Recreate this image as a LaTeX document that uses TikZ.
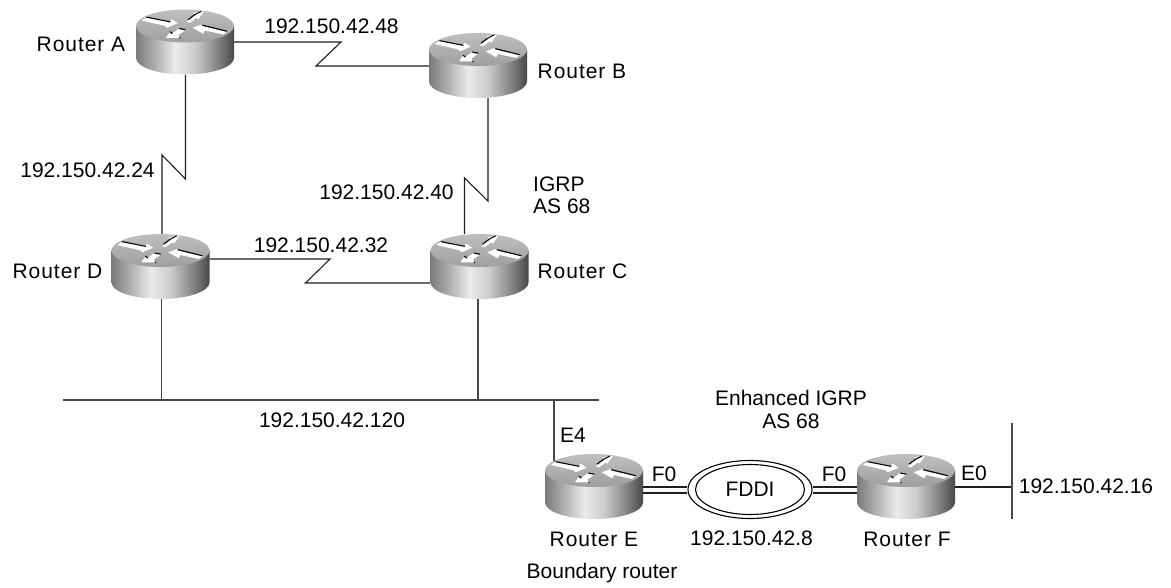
\documentclass[tikz,border=0pt]{standalone}
\usepackage{fontspec}
\setmainfont{Liberation Sans}
\usetikzlibrary{shapes.geometric}
\pgfdeclarehorizontalshading{routerside}{100bp}{color(0bp)=(black!52); color(25bp)=(black!52); color(33bp)=(black!35); color(45bp)=(black!8); color(55bp)=(black!20); color(68bp)=(black!52); color(75bp)=(black!72); color(100bp)=(black!72)}
\newcommand{\spaced}{\addfontfeature{LetterSpace=4.5}}
\tikzset{
  every picture/.style={x=1pt,y=-1pt},
  link/.style={draw=black!88,line width=1.1pt},
  lan/.style={draw=black!72,line width=1.2pt},
  anchorbox/.style={inner sep=0pt,minimum width=98pt,minimum height=65pt},
  lbl/.style={inner sep=0pt,font=\fontsize{21}{24}\selectfont,align=left},
  rlbl/.style={inner sep=0pt,font=\fontsize{21}{24}\selectfont\spaced},
  ringstyle/.style={draw=black,line width=1.1pt,ellipse,inner sep=0pt,fill=white},
  blackmark/.style={draw=black,line width=1.1pt,line cap=round},
  routerbody/.pic={
    \shade[shading=routerside] (-49,-16) -- (-49,16) .. controls (-49,25.1) and (-27,32.5) .. (0,32.5) .. controls (27,32.5) and (49,25.1) .. (49,16) -- (49,-16) -- cycle;
    \shade[top color=black!25,bottom color=black!38] (-49,-16) .. controls (-49,-25.1) and (-27,-32.5) .. (0,-32.5) .. controls (27,-32.5) and (49,-25.1) .. (49,-16) .. controls (49,-6.9) and (27,0.5) .. (0,0.5) .. controls (-27,0.5) and (-49,-6.9) .. cycle;
    \begin{scope}[shift={(0,-16)}]
      \fill[white] (-43.3,-5.5) -- (-38.3,-8.8) -- (-15,-4.2) -- (-13.3,-6.8) -- (-7.3,-2.8) -- (-18.3,1.8) -- (-20,-0.2) -- cycle;
      \draw[blackmark] (-38.3,-8.8) -- (-15,-4.2);
      \fill[white] (1.7,-4.2) -- (5,-3.2) -- (11.7,-8.2) -- (13.3,-6.8) -- (19,-14.8) -- (8.3,-13.2) -- (10,-10.8) -- cycle;
      \draw[blackmark] (3.3,-6.5) -- (10,-11.5) -- (16,-14.5);
      \fill[white] (7.7,1.8) -- (16.7,-1.5) -- (18,0.2) -- (41.7,5.8) -- (38.3,8.5) -- (20,4.5) -- (18.3,7.8) -- cycle;
      \draw[blackmark] (17.5,-0.8) -- (41.7,5.2);
      \fill[white] (-19,11.8) -- (-15,5.8) -- (-12.7,7.5) -- (-6,2.5) -- (0,4.5) -- (-6.7,9.2) -- (-5,11.8) -- cycle;
      \draw[blackmark] (-5.5,2.6) -- (0,3.6);
      \draw[blackmark] (-15,5.8) -- (-12.7,7.5);
      \fill[black] (-5,11.8) circle (0.8);
    \end{scope}
  }
}
\begin{document}
\begin{tikzpicture}
\useasboundingbox (0,0) rectangle (1171,587);
% router placeholders
\node[anchorbox] (A) at (185,42) {};
\node[anchorbox] (B) at (478,65.5) {};
\node[anchorbox] (C) at (479.5,266.5) {};
\node[anchorbox] (D) at (160.5,266.5) {};
\node[anchorbox] (E) at (594,486.5) {};
\node[anchorbox] (F) at (906,486.5) {};
% bend points
\coordinate (ab1) at (341,42);
\coordinate (ab2) at (316,66);
\coordinate (ad1) at (185.5,179);
\coordinate (ad2) at (162,155);
\coordinate (bc1) at (488,201);
\coordinate (bc2) at (464.5,178);
\coordinate (dc1) at (330,259);
\coordinate (dc2) at (305.5,283);
\coordinate (buswest) at (63,400);
\coordinate (buseast) at (599,400);
\coordinate (dropd) at (161.7,400);
\coordinate (dropc) at (478,400);
\coordinate (drope) at (554,400);
\coordinate (f1) at (0,487);
\coordinate (f2) at (0,493);
\coordinate (e0) at (1012,487);
\coordinate (nettop) at (1012,423);
\coordinate (netbot) at (1012,519);
% connectors
\draw[link] (A.east |- ab1) -- (ab1) -- (ab2) -- (B.west |- ab2);
\draw[link] (A.south -| ad1) -- (ad1) -- (ad2) -- (D.north -| ad2);
\draw[link] (B.south -| bc1) -- (bc1) -- (bc2) -- (C.north -| bc2);
\draw[link] (D.east |- dc1) -- (dc1) -- (dc2) -- (C.west |- dc2);
\draw[lan] (buswest) -- (buseast);
\draw[lan] (D.south -| dropd) -- (dropd);
\draw[lan] (C.south -| dropc) -- (dropc);
\draw[lan] (drope) -- (drope |- E.center);
\draw[link] (F.east |- e0) -- (e0);
\draw[lan] (nettop) -- (netbot);
% FDDI ring
\node[ringstyle,minimum width=124pt,minimum height=58pt] (ringout) at (750,489.5) {};
\node[ringstyle,minimum width=109pt,minimum height=50pt,font=\fontsize{21}{24}\selectfont] (ringin) at (750,489.5) {FDDI};
\draw[link] (E.east |- f1) -- (ringout.west |- f1);
\draw[link] (E.east |- f2) -- (ringout.west |- f2);
\draw[link] (ringout.east |- f1) -- (F.west |- f1);
\draw[link] (ringout.east |- f2) -- (F.west |- f2);
% routers
\pic at (A) {routerbody};
\pic at (B) {routerbody};
\pic at (C) {routerbody};
\pic at (D) {routerbody};
\pic at (E) {routerbody};
\pic at (F) {routerbody};
% labels
\node[rlbl] (ta) at (81,44) {Router A};
\node[rlbl] (tb) at (582,71) {Router B};
\node[rlbl] (tc) at (582.5,271) {Router C};
\node[rlbl] (td) at (57.5,271) {Router D};
\node[rlbl] (te) at (594,539) {Router E};
\node[rlbl] (tf) at (907,539) {Router F};
\node[lbl] (n48) at (331.5,26) {192.150.42.48};
\node[lbl] (n24) at (87.5,170) {192.150.42.24};
\node[lbl] (n40) at (386.5,192) {192.150.42.40};
\node[lbl] (n32) at (321,245) {192.150.42.32};
\node[lbl] (n120) at (332,420) {192.150.42.120};
\node[lbl] (n8) at (751.5,538) {192.150.42.8};
\node[lbl] (n16) at (1086,486) {192.150.42.16};
\node[lbl,anchor=west] (igrp) at (533,184) {IGRP};
\node[lbl,anchor=west] (as1) at (533,206) {AS 68};
\node[lbl] (eigrp) at (791,398) {Enhanced IGRP};
\node[lbl] (as2) at (791,421) {AS 68};
\node[lbl] (be4) at (573,435) {E4};
\node[lbl] (bf1) at (664,474) {F0};
\node[lbl] (bf2) at (834,474) {F0};
\node[lbl] (be0) at (974,473) {E0};
\node[lbl] (bound) at (602,573) {Boundary router};
\end{tikzpicture}
\end{document}
